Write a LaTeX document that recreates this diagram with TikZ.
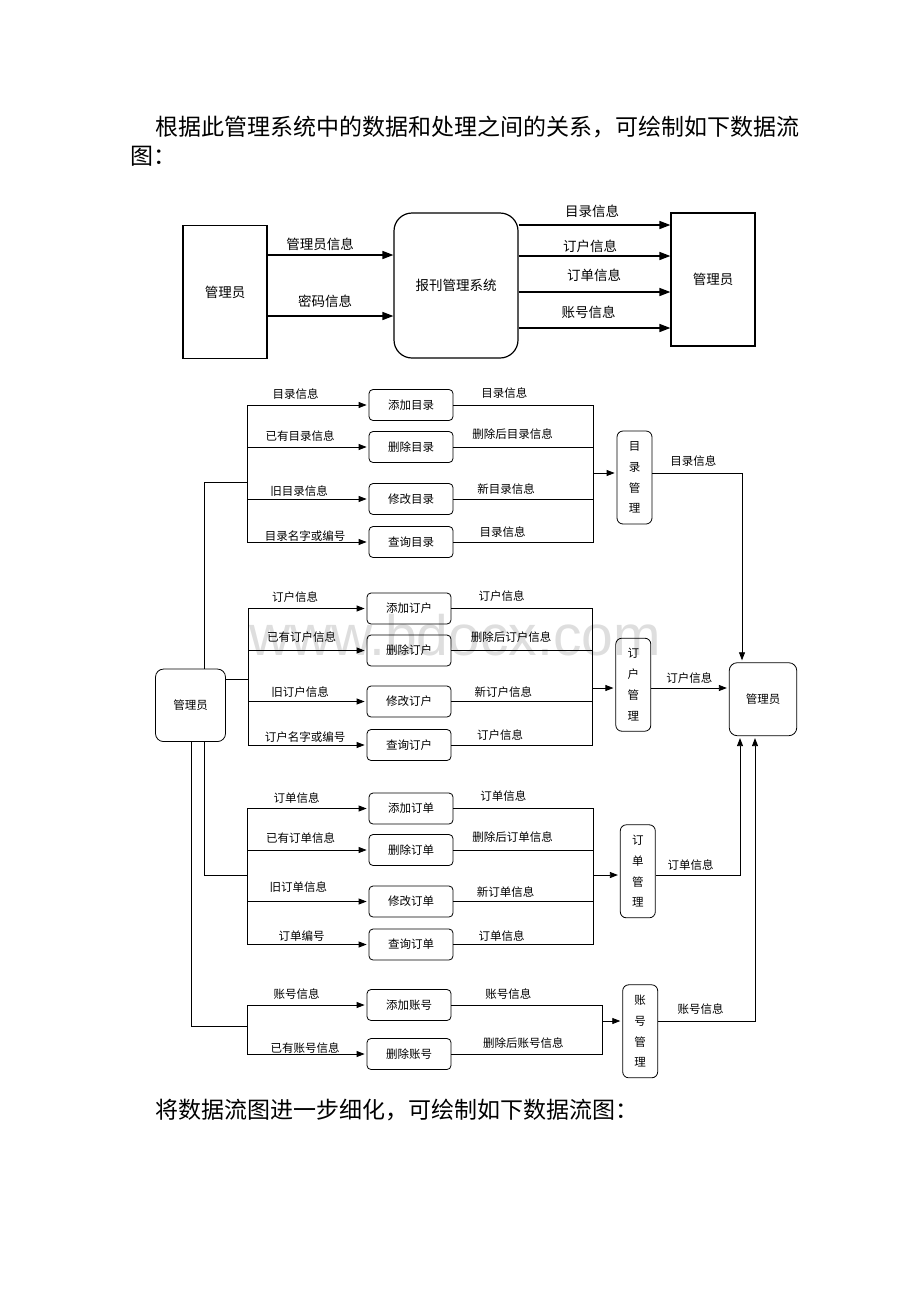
\documentclass[tikz,border=0pt]{standalone}
\usepackage{fontspec}
\setmainfont{Noto Sans CJK SC}
\newfontfamily\wmfont{Liberation Sans}
\usetikzlibrary{arrows.meta}

\begin{document}
\begin{tikzpicture}[x=1pt,y=-1pt,line width=0.8pt,
  box/.style={draw, line width=1.2pt, minimum width=84pt, minimum height=133pt, font=\fontsize{13.5}{16}\selectfont},
  proc/.style={draw, rounded corners=4pt, minimum width=84pt, minimum height=31pt, font=\fontsize{11.5}{14}\selectfont},
  mgr/.style={draw, rounded corners=6pt, minimum width=35pt, minimum height=93pt, inner sep=0pt, align=center, font=\fontsize{11.5}{20.8}\selectfont},
  lbl/.style={inner sep=0pt, font=\fontsize{11.5}{14}\selectfont},
  toplbl/.style={inner sep=0pt, font=\fontsize{13.5}{16}\selectfont},
  para/.style={inner sep=0pt, anchor=west, font=\fontsize{23}{28}\selectfont},
  arr/.style={-{Triangle[length=8pt,width=6pt]}, shorten >=2pt},
  bigarr/.style={line width=1.5pt, -{Triangle[length=11pt,width=8pt]}}]
\useasboundingbox (0,0) rectangle (920,1302);

\node[text=black!13, font=\wmfont\fontsize{57}{60}\selectfont, anchor=base] (wm) at (455,655) {www.bdocx.com};

\node[para] (p1) at (155,127) {根据此管理系统中的数据和处理之间的关系，可绘制如下数据流};
\node[para] (p2) at (130,156) {图：};
\node[para] (p3) at (155,1110) {将数据流图进一步细化，可绘制如下数据流图：};

% overview
\node[box] (topUser) at (225,292) {管理员};
\node[box, rounded corners=18pt, minimum width=124pt, minimum height=145pt] (paper) at (456,285.5) {报刊管理系统};
\node[box] (topUserR) at (713,279.5) {管理员};

\draw[bigarr] (topUser.east |- 0,255) -- (paper.west |- 0,255);
\draw[bigarr] (topUser.east |- 0,316) -- (paper.west |- 0,316);
\draw[bigarr] (paper.east |- 0,225) -- (topUserR.west |- 0,225);
\draw[bigarr] (paper.east |- 0,256) -- (topUserR.west |- 0,256);
\draw[bigarr] (paper.east |- 0,292) -- (topUserR.west |- 0,292);
\draw[bigarr] (paper.east |- 0,328) -- (topUserR.west |- 0,328);

\node[toplbl] (t1) at (320,244) {管理员信息};
\node[toplbl] (t2) at (325,301) {密码信息};
\node[toplbl] (t3) at (592,211) {目录信息};
\node[toplbl] (t4) at (590,246.5) {订户信息};
\node[toplbl] (t5) at (594,275.5) {订单信息};
\node[toplbl] (t6) at (588.5,312.5) {账号信息};

% detail
\node[draw, rounded corners=8pt, minimum width=70pt, minimum height=72.5pt, font=\fontsize{11.5}{14}\selectfont] (user) at (190.5,705.3) {管理员};
\node[draw, rounded corners=8pt, minimum width=67.5pt, minimum height=73pt, font=\fontsize{11.5}{14}\selectfont] (userR) at (763,699.2) {管理员};

\node[proc] (catAdd) at (411,405) {添加目录};
\node[proc] (catDel) at (411,447) {删除目录};
\node[proc] (catMod) at (411,499) {修改目录};
\node[proc] (catQry) at (411,542) {查询目录};
\node[mgr] (catMgr) at (634.5,477.5) {目\\录\\管\\理};

\node[proc] (subAdd) at (409,608.5) {添加订户};
\node[proc] (subDel) at (409,650.5) {删除订户};
\node[proc] (subMod) at (409,701.5) {修改订户};
\node[proc] (subQry) at (409,745) {查询订户};
\node[mgr] (subMgr) at (633.3,684.7) {订\\户\\管\\理};

\node[proc] (ordAdd) at (411,808.5) {添加订单};
\node[proc] (ordDel) at (411,850) {删除订单};
\node[proc] (ordMod) at (411,901.5) {修改订单};
\node[proc] (ordQry) at (411,944.5) {查询订单};
\node[mgr] (ordMgr) at (637.8,871.3) {订\\单\\管\\理};

\node[proc] (accAdd) at (409,1005) {添加账号};
\node[proc] (accDel) at (409,1054) {删除账号};
\node[mgr] (accMgr) at (640.2,1031.3) {账\\号\\管\\理};

\coordinate (catIn) at (247,482);
\coordinate (subIn) at (248,679);
\coordinate (ordIn) at (247,875);
\coordinate (accIn) at (247,1026);
\coordinate (catOut) at (593,473);
\coordinate (subOut) at (592,688);
\coordinate (ordOut) at (593,875);
\coordinate (accOut) at (602,1021);
\coordinate (catTurn) at (742,473);
\coordinate (ordTurn) at (740,875.5);
\coordinate (accTurn) at (755,1021);

\draw (user.north -| 204,0) |- (catIn);
\draw (user.east |- subIn) -- (subIn);
\draw (user.south -| 204,0) |- (ordIn);
\draw (user.south -| 191,0) |- (accIn);

\draw (catAdd.west -| catIn) -- (catQry.west -| catIn);
\draw[arr] (catAdd.west -| catIn) -- (catAdd.west);
\draw[arr] (catDel.west -| catIn) -- (catDel.west);
\draw[arr] (catMod.west -| catIn) -- (catMod.west);
\draw[arr] (catQry.west -| catIn) -- (catQry.west);
\draw (catAdd.east) -- (catAdd.east -| catOut) -- (catQry.east -| catOut) -- (catQry.east);
\draw (catDel.east) -- (catDel.east -| catOut);
\draw (catMod.east) -- (catMod.east -| catOut);
\draw[arr] (catOut) -- (catMgr.west |- catOut);
\draw[arr] (catMgr.east |- catTurn) -- (catTurn) -- (catTurn |- userR.north);

\draw (subAdd.west -| subIn) -- (subQry.west -| subIn);
\draw[arr] (subAdd.west -| subIn) -- (subAdd.west);
\draw[arr] (subDel.west -| subIn) -- (subDel.west);
\draw[arr] (subMod.west -| subIn) -- (subMod.west);
\draw[arr] (subQry.west -| subIn) -- (subQry.west);
\draw (subAdd.east) -- (subAdd.east -| subOut) -- (subQry.east -| subOut) -- (subQry.east);
\draw (subDel.east) -- (subDel.east -| subOut);
\draw (subMod.east) -- (subMod.east -| subOut);
\draw[arr] (subOut) -- (subMgr.west |- subOut);
\draw[arr] (subMgr.east |- subOut) -- (userR.west |- subOut);

\draw (ordAdd.west -| ordIn) -- (ordQry.west -| ordIn);
\draw[arr] (ordAdd.west -| ordIn) -- (ordAdd.west);
\draw[arr] (ordDel.west -| ordIn) -- (ordDel.west);
\draw[arr] (ordMod.west -| ordIn) -- (ordMod.west);
\draw[arr] (ordQry.west -| ordIn) -- (ordQry.west);
\draw (ordAdd.east) -- (ordAdd.east -| ordOut) -- (ordQry.east -| ordOut) -- (ordQry.east);
\draw (ordDel.east) -- (ordDel.east -| ordOut);
\draw (ordMod.east) -- (ordMod.east -| ordOut);
\draw[arr] (ordOut) -- (ordMgr.west |- ordOut);
\draw[arr] (ordMgr.east |- ordTurn) -- (ordTurn) -- (ordTurn |- userR.south);

\draw (accAdd.west -| accIn) -- (accDel.west -| accIn);
\draw[arr] (accAdd.west -| accIn) -- (accAdd.west);
\draw[arr] (accDel.west -| accIn) -- (accDel.west);
\draw (accAdd.east) -- (accAdd.east -| accOut) -- (accDel.east -| accOut) -- (accDel.east);
\draw[arr] (accOut) -- (accMgr.west |- accOut);
\draw[arr] (accMgr.east |- accTurn) -- (accTurn) -- (accTurn |- userR.south);

\node[lbl] (a1) at (295.7,394) {目录信息};
\node[lbl] (a2) at (300,436) {已有目录信息};
\node[lbl] (a3) at (299,490.7) {旧目录信息};
\node[lbl] (a4) at (305,535.7) {目录名字或编号};
\node[lbl] (a5) at (504.3,393.3) {目录信息};
\node[lbl] (a6) at (512.7,434.3) {删除后目录信息};
\node[lbl] (a7) at (506,489.3) {新目录信息};
\node[lbl] (a8) at (502.7,532.3) {目录信息};
\node[lbl] (a9) at (693.3,461) {目录信息};

\node[lbl] (b1) at (295,597.3) {订户信息};
\node[lbl] (b2) at (301.7,637.3) {已有订户信息};
\node[lbl] (b3) at (300,692.3) {旧订户信息};
\node[lbl] (b4) at (305,736.7) {订户名字或编号};
\node[lbl] (b5) at (501.7,596) {订户信息};
\node[lbl] (b6) at (511,636.7) {删除后订户信息};
\node[lbl] (b7) at (503.3,691.7) {新订户信息};
\node[lbl] (b8) at (500,735) {订户信息};
\node[lbl] (b9) at (689.3,677.7) {订户信息};

\node[lbl] (c1) at (296.7,798.3) {订单信息};
\node[lbl] (c2) at (300.7,837.7) {已有订单信息};
\node[lbl] (c3) at (298.3,887.3) {旧订单信息};
\node[lbl] (c4) at (301.7,936) {订单编号};
\node[lbl] (c5) at (503.3,796) {订单信息};
\node[lbl] (c6) at (512.7,837.3) {删除后订单信息};
\node[lbl] (c7) at (505.7,892.3) {新订单信息};
\node[lbl] (c8) at (501.7,936) {订单信息};
\node[lbl] (c9) at (690.7,865) {订单信息};

\node[lbl] (d1) at (296.7,994.3) {账号信息};
\node[lbl] (d2) at (305,1047.7) {已有账号信息};
\node[lbl] (d3) at (508.3,994.3) {账号信息};
\node[lbl] (d4) at (523.3,1043.3) {删除后账号信息};
\node[lbl] (d5) at (700.7,1009.3) {账号信息};
\end{tikzpicture}
\end{document}
